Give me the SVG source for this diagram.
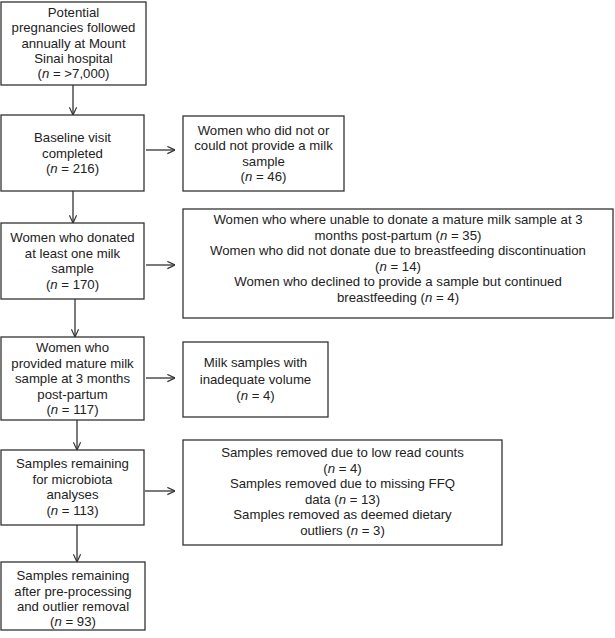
<svg xmlns="http://www.w3.org/2000/svg" width="615" height="638" viewBox="0 0 615 638">
<style>
.box{fill:#fff;stroke:#333;stroke-width:1.3}
.t{font-family:"Liberation Sans",Arial,sans-serif;font-size:13.2px;fill:#222;text-anchor:middle}
.i{font-style:italic}
.c{stroke:#333;stroke-width:1.3;fill:none}
</style>
<defs>
<marker id="ah" markerUnits="userSpaceOnUse" viewBox="0 0 10 10" refX="9.5" refY="5" markerWidth="9" markerHeight="9" orient="auto">
<path d="M1,1 L9.5,5 L1,9" fill="none" stroke="#333" stroke-width="1.3"/>
</marker>
</defs>
<rect width="615" height="638" fill="#fff"/>
<g id="connectors">
<line class="c" x1="73" y1="85" x2="73" y2="115" marker-end="url(#ah)"/>
<line class="c" x1="73" y1="191" x2="73" y2="223" marker-end="url(#ah)"/>
<line class="c" x1="146" y1="150" x2="175" y2="150" marker-end="url(#ah)"/>
<line class="c" x1="146" y1="265" x2="175" y2="265" marker-end="url(#ah)"/>
<line class="c" x1="75" y1="299" x2="75" y2="337" marker-end="url(#ah)"/>
<line class="c" x1="146" y1="378" x2="175" y2="378" marker-end="url(#ah)"/>
<line class="c" x1="77" y1="420" x2="77" y2="450" marker-end="url(#ah)"/>
<line class="c" x1="145" y1="491" x2="175" y2="491" marker-end="url(#ah)"/>
<line class="c" x1="77" y1="525" x2="77" y2="562" marker-end="url(#ah)"/>
</g>
<g id="n1">
<rect class="box" x="1" y="2" width="145" height="83"/>
<text class="t" x="73.5" y="17">Potential</text>
<text class="t" x="73.5" y="32">pregnancies followed</text>
<text class="t" x="73.5" y="47.5">annually at Mount</text>
<text class="t" x="73.5" y="63">Sinai hospital</text>
<text class="t" x="73.5" y="78">(<tspan class="i">n</tspan> = &gt;7,000)</text>
</g>
<g id="n2">
<rect class="box" x="1" y="115" width="143" height="76"/>
<text class="t" x="72.5" y="142">Baseline visit</text>
<text class="t" x="72.5" y="158">completed</text>
<text class="t" x="72.5" y="173">(<tspan class="i">n</tspan> = 216)</text>
</g>
<g id="r2">
<rect class="box" x="183" y="116" width="161" height="75"/>
<text class="t" x="263.5" y="135">Women who did not or</text>
<text class="t" x="263.5" y="150">could not provide a milk</text>
<text class="t" x="263.5" y="165.5">sample</text>
<text class="t" x="263.5" y="181">(<tspan class="i">n</tspan> = 46)</text>
</g>
<g id="n3">
<rect class="box" x="1" y="223" width="143" height="76"/>
<text class="t" x="72.5" y="242">Women who donated</text>
<text class="t" x="72.5" y="257.5">at least one milk</text>
<text class="t" x="72.5" y="273">sample</text>
<text class="t" x="72.5" y="288.5">(<tspan class="i">n</tspan> = 170)</text>
</g>
<g id="r3">
<rect class="box" x="183" y="209" width="430" height="109"/>
<text class="t" x="398" y="224">Women who where unable to donate a mature milk sample at 3</text>
<text class="t" x="398" y="239.5">months post-partum (<tspan class="i">n</tspan> = 35)</text>
<text class="t" x="398" y="255">Women who did not donate due to breastfeeding discontinuation</text>
<text class="t" x="398" y="270.5">(<tspan class="i">n</tspan> = 14)</text>
<text class="t" x="398" y="286">Women who declined to provide a sample but continued</text>
<text class="t" x="398" y="301.5">breastfeeding (<tspan class="i">n</tspan> = 4)</text>
</g>
<g id="n4">
<rect class="box" x="1" y="337" width="143" height="83"/>
<text class="t" x="72.5" y="352">Women who</text>
<text class="t" x="72.5" y="367.5">provided mature milk</text>
<text class="t" x="72.5" y="383">sample at 3 months</text>
<text class="t" x="72.5" y="398.5">post-partum</text>
<text class="t" x="72.5" y="414">(<tspan class="i">n</tspan> = 117)</text>
</g>
<g id="r4">
<rect class="box" x="183" y="342" width="145" height="75"/>
<text class="t" x="255.5" y="367">Milk samples with</text>
<text class="t" x="255.5" y="384">inadequate volume</text>
<text class="t" x="255.5" y="400">(<tspan class="i">n</tspan> = 4)</text>
</g>
<g id="n5">
<rect class="box" x="1" y="450" width="143" height="75"/>
<text class="t" x="72.5" y="468">Samples remaining</text>
<text class="t" x="72.5" y="483.5">for microbiota</text>
<text class="t" x="72.5" y="499">analyses</text>
<text class="t" x="72.5" y="514.5">(<tspan class="i">n</tspan> = 113)</text>
</g>
<g id="r5">
<rect class="box" x="183" y="440" width="319" height="105"/>
<text class="t" x="342.5" y="457">Samples removed due to low read counts</text>
<text class="t" x="342.5" y="472.5">(<tspan class="i">n</tspan> = 4)</text>
<text class="t" x="342.5" y="488">Samples removed due to missing FFQ</text>
<text class="t" x="342.5" y="503.5">data (<tspan class="i">n</tspan> = 13)</text>
<text class="t" x="342.5" y="519">Samples removed as deemed dietary</text>
<text class="t" x="342.5" y="534.5">outliers (<tspan class="i">n</tspan> = 3)</text>
</g>
<g id="n6">
<rect class="box" x="1" y="562" width="144" height="68"/>
<text class="t" x="73" y="580">Samples remaining</text>
<text class="t" x="73" y="595.5">after pre-processing</text>
<text class="t" x="73" y="611">and outlier removal</text>
<text class="t" x="73" y="626">(<tspan class="i">n</tspan> = 93)</text>
</g>
</svg>
